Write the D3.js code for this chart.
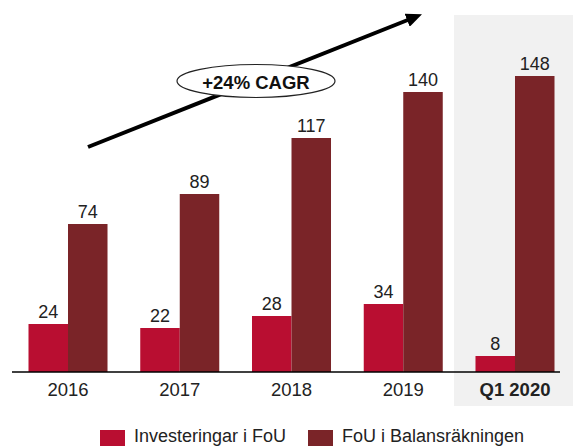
<!DOCTYPE html>
<html>
<head>
<meta charset="utf-8">
<script src="https://cdn.jsdelivr.net/npm/d3@7"></script>
<style>
  body { margin: 0; background: #fff; }
  svg { display: block; font-family: "Liberation Sans", Arial, sans-serif; }
</style>
</head>
<body>
<svg id="chart"></svg>
<script>
var categories = ["2016", "2017", "2018", "2019", "Q1 2020"]
var investeringar = [24, 22, 28, 34, 8]
var balans = [74, 89, 117, 140, 148]
var seriesNames = ["Investeringar i FoU", "FoU i Balansräkningen"]
var seriesColors = ["#b90e31", "#7a2428"]
var cagrLabel = "+24% CAGR"

var width = 573, height = 446
var svg = d3.select("#chart").attr("width", width).attr("height", height)

var x = d3.scaleBand()
    .domain(categories)
    .range([28.5, 554.5])
    .paddingInner(0.293)
    .paddingOuter(0)

var xInner = d3.scaleBand()
    .domain(seriesNames)
    .range([0, x.bandwidth()])

var y = d3.scaleLinear()
    .domain([0, 150])
    .range([372, 72])

// grey highlight behind the last (partial year) category
var last = categories[categories.length - 1]
svg.append("rect")
    .attr("x", x(last) - 21.5)
    .attr("y", 15)
    .attr("width", width - (x(last) - 21.5))
    .attr("height", 391)
    .attr("fill", "#f1f1f1")

var rows = categories.map((c, i) => ({cat: c, values: [investeringar[i], balans[i]]}))

var groups = svg.selectAll(".group")
    .data(rows).enter()
    .append("g")
    .attr("class", "group")
    .attr("transform", d => "translate(" + x(d.cat) + ",0)")

groups.selectAll("rect")
    .data(d => d.values.map((v, j) => ({name: seriesNames[j], value: v, j: j})))
    .enter()
    .append("rect")
    .attr("x", d => xInner(d.name))
    .attr("y", d => y(d.value))
    .attr("width", xInner.bandwidth())
    .attr("height", d => y(0) - y(d.value))
    .attr("fill", d => seriesColors[d.j])

groups.selectAll("text.val")
    .data(d => d.values.map((v, j) => ({name: seriesNames[j], value: v})))
    .enter()
    .append("text")
    .attr("class", "val")
    .attr("x", d => xInner(d.name) + xInner.bandwidth() / 2)
    .attr("y", d => y(d.value) - 6.5)
    .attr("text-anchor", "middle")
    .attr("font-size", "18px")
    .attr("fill", "#222")
    .text(d => d.value)

// x axis
var axis = svg.append("g")
    .attr("transform", "translate(0," + y(0) + ")")
    .call(d3.axisBottom(x).tickSize(0).tickPadding(0))
axis.select(".domain").remove()
axis.append("line")
    .attr("x1", 12).attr("x2", 560)
    .attr("stroke", "#000")
    .attr("stroke-width", 1.6)
axis.selectAll(".tick text")
    .attr("dy", null)
    .attr("y", 24)
    .attr("font-family", "\"Liberation Sans\", Arial, sans-serif")
    .attr("font-size", "18.5px")
    .attr("fill", "#222")
    .attr("font-weight", d => d === last ? "bold" : "normal")

// CAGR arrow
svg.append("defs").append("marker")
    .attr("id", "head")
    .attr("markerUnits", "userSpaceOnUse")
    .attr("viewBox", "0 0 16 14")
    .attr("refX", 2).attr("refY", 7)
    .attr("markerWidth", 16).attr("markerHeight", 14)
    .attr("orient", "auto")
    .append("path")
    .attr("d", "M0,0 L16,7 L0,14 Z")
    .attr("fill", "#000")

svg.append("line")
    .attr("x1", 88).attr("y1", 147)
    .attr("x2", 409).attr("y2", 19.5)
    .attr("stroke", "#000")
    .attr("stroke-width", 4)
    .attr("marker-end", "url(#head)")

svg.append("ellipse")
    .attr("cx", 256).attr("cy", 81)
    .attr("rx", 79).attr("ry", 16.5)
    .attr("fill", "#fff")
    .attr("stroke", "#222")
    .attr("stroke-width", 1.2)

svg.append("text")
    .attr("x", 256).attr("y", 88.5)
    .attr("text-anchor", "middle")
    .attr("font-size", "18.5px")
    .attr("font-weight", "bold")
    .attr("fill", "#111")
    .text(cagrLabel)

// legend (kept just inside the bottom edge)
var legendX = [100, 308]
var legend = svg.selectAll(".legend")
    .data(seriesNames).enter()
    .append("g")
    .attr("class", "legend")
    .attr("transform", (d, i) => "translate(" + legendX[i] + ",430)")
legend.append("rect")
    .attr("width", 25).attr("height", 16)
    .attr("fill", (d, i) => seriesColors[i])
legend.append("text")
    .attr("x", 34).attr("y", 12)
    .attr("font-size", "18px")
    .attr("fill", "#222")
    .text(d => d)
</script>
</body>
</html>
